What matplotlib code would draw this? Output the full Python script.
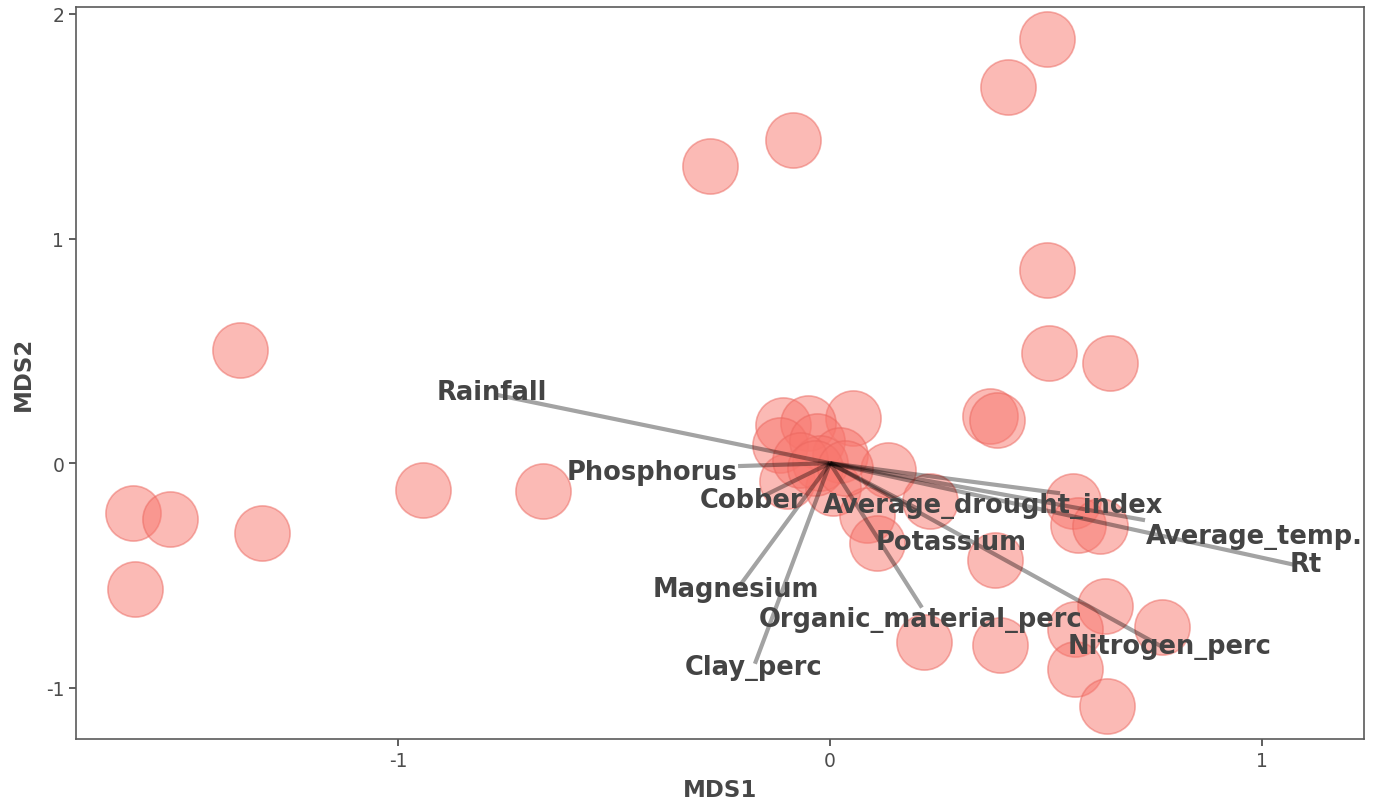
import matplotlib
matplotlib.use("Agg")
import matplotlib.pyplot as plt

plt.rcParams["axes.unicode_minus"] = False

# site scores (MDS1, MDS2)
mds1 = [0.503, 0.413, -0.086, -0.278, 0.503, -1.367, 0.508, 0.649, 0.371, 0.387,
        0.053, -0.109, -0.051, -0.116, -0.030, 0.023, 0.134, -0.100, 0.007, 0.086,
        0.109, 0.232, -0.023, -0.070, -0.943, -0.665, -1.615, -1.530, -1.316, -1.611,
        0.563, 0.575, 0.626, 0.382, 0.637, 0.769, 0.568, 0.218, 0.394, 0.568,
        0.642, -0.035, 0.035]
mds2 = [1.888, 1.674, 1.438, 1.321, 0.862, 0.504, 0.491, 0.446, 0.210, 0.192,
        0.201, 0.170, 0.179, 0.080, 0.098, 0.036, -0.031, -0.080, -0.112, -0.232,
        -0.357, -0.170, 0.000, 0.013, -0.121, -0.125, -0.223, -0.250, -0.313, -0.558,
        -0.170, -0.277, -0.281, -0.433, -0.638, -0.728, -0.737, -0.795, -0.808, -0.915,
        -1.080, -0.022, -0.022]

# environmental vectors
variables = ["Rainfall", "Phosphorus", "Cobber", "Average_drought_index", "Potassium",
             "Average_temp.", "Rt", "Magnesium", "Organic_material_perc",
             "Nitrogen_perc", "Clay_perc"]
vec_x = [-0.772, -0.213, -0.151, 0.533, 0.200, 0.730, 1.082, -0.209, 0.213, 0.769, -0.174]
vec_y = [0.304, -0.013, -0.143, -0.134, -0.200, -0.254, -0.455, -0.545, -0.643, -0.817, -0.893]
lab_x = [-0.783, -0.413, -0.181, 0.378, 0.280, 0.983, 1.103, -0.218, 0.211, 0.786, -0.176]
lab_y = [0.317, -0.040, -0.165, -0.188, -0.353, -0.326, -0.451, -0.558, -0.692, -0.813, -0.906]

fig = plt.figure(figsize=(13.83, 8.04), dpi=100)
ax = fig.add_axes([0.055, 0.0796, 0.9313, 0.9105])

ax.scatter(mds1, mds2, s=1580, facecolor=(0.973, 0.463, 0.427, 0.5),
           edgecolor=(0.92, 0.40, 0.37, 0.5), linewidth=1.2, zorder=2)

for vx, vy in zip(vec_x, vec_y):
    ax.plot([0, vx], [0, vy], color="black", alpha=0.36, lw=3.0,
            solid_capstyle="butt", zorder=3)

for name, tx, ty in zip(variables, lab_x, lab_y):
    ax.text(tx, ty, name, ha="center", va="center", fontsize=18.5,
            fontweight="bold", color="#444444", zorder=4)

ax.set_xlim(-1.747, 1.2375)
ax.set_ylim(-1.228, 2.031)
ax.set_xticks([-1, 0, 1])
ax.set_yticks([-1, 0, 1, 2])
ax.tick_params(labelsize=13.5, labelcolor="#4d4d4d", color="#333333",
               length=5, width=1.1)
for sp in ax.spines.values():
    sp.set_color("#5a5a5a")
    sp.set_linewidth(1.2)

ax.set_xlabel("MDS1", fontsize=16.5, fontweight="bold", color="#474747", labelpad=6)
ax.set_ylabel("MDS2", fontsize=16.5, fontweight="bold", color="#474747", labelpad=8)

fig.savefig("out.png", dpi=100)
